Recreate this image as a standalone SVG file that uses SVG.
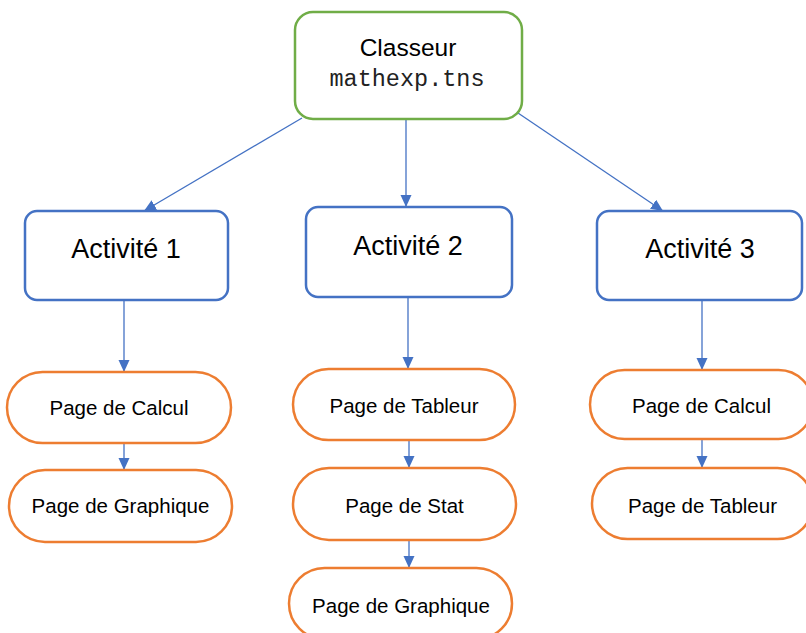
<svg xmlns="http://www.w3.org/2000/svg" width="806" height="633" viewBox="0 0 806 633">
<style>
  .root{fill:#fff;stroke:#70AD47;stroke-width:2.5}
  .act{fill:#fff;stroke:#4472C4;stroke-width:2.5}
  .page{fill:#fff;stroke:#ED7D31;stroke-width:2.5}
  .t{font-family:"Liberation Sans",Arial,sans-serif;fill:#000;text-anchor:middle}
  .ta{font-size:27px}
  .tp{font-size:20.5px}
  .mono{font-family:"Liberation Mono","Courier New",monospace;font-size:23.5px;fill:#222;text-anchor:middle}
  .c{stroke:#4472C4;stroke-width:1.3;fill:none;marker-end:url(#ah)}
</style>
<defs>
  <marker id="ah" markerUnits="userSpaceOnUse" markerWidth="13" markerHeight="12" refX="12" refY="5.5" orient="auto">
    <path d="M0,0 L12,5.5 L0,11 z" fill="#4472C4"/>
  </marker>
</defs>
<rect width="806" height="633" fill="#fff"/>
<g id="connectors">
  <line class="c" x1="302" y1="118" x2="144" y2="211"/>
  <line class="c" x1="406" y1="119" x2="406" y2="207"/>
  <line class="c" x1="518" y1="113" x2="663" y2="211"/>
  <line class="c" x1="124" y1="300" x2="124" y2="372"/>
  <line class="c" x1="124" y1="443" x2="124" y2="470"/>
  <line class="c" x1="408" y1="297" x2="408" y2="369"/>
  <line class="c" x1="409" y1="440" x2="409" y2="468"/>
  <line class="c" x1="409" y1="540" x2="409" y2="568"/>
  <line class="c" x1="702" y1="300" x2="702" y2="370"/>
  <line class="c" x1="702" y1="439" x2="702" y2="468"/>
</g>
<g id="classeur">
  <rect class="root" x="295" y="12" width="227" height="107" rx="18"/>
  <text class="t" x="408" y="56" font-size="24.5">Classeur</text>
  <text class="mono" x="407" y="86">mathexp.tns</text>
</g>
<g id="activite1">
  <rect class="act" x="25" y="211" width="203" height="89" rx="12"/>
  <text class="t ta" x="126" y="258">Activité 1</text>
</g>
<g id="activite2">
  <rect class="act" x="306" y="207" width="206" height="90" rx="12"/>
  <text class="t ta" x="408" y="255">Activité 2</text>
</g>
<g id="activite3">
  <rect class="act" x="597" y="211" width="205" height="89" rx="12"/>
  <text class="t ta" x="700" y="258">Activité 3</text>
</g>
<g id="a1-calcul">
  <rect class="page" x="7" y="372" width="224" height="71" rx="35.5"/>
  <text class="t tp" x="119" y="415">Page de Calcul</text>
</g>
<g id="a1-graphique">
  <rect class="page" x="9" y="470" width="223" height="72" rx="36"/>
  <text class="t tp" x="120.5" y="513">Page de Graphique</text>
</g>
<g id="a2-tableur">
  <rect class="page" x="293" y="369" width="222" height="71" rx="35.5"/>
  <text class="t tp" x="404" y="413">Page de Tableur</text>
</g>
<g id="a2-stat">
  <rect class="page" x="293" y="468" width="223" height="72" rx="36"/>
  <text class="t tp" x="404.5" y="513">Page de Stat</text>
</g>
<g id="a2-graphique">
  <rect class="page" x="289" y="568" width="223" height="71" rx="35.5"/>
  <text class="t tp" x="401" y="613">Page de Graphique</text>
</g>
<g id="a3-calcul">
  <rect class="page" x="590" y="370" width="223" height="69" rx="34.5"/>
  <text class="t tp" x="701.5" y="413">Page de Calcul</text>
</g>
<g id="a3-tableur">
  <rect class="page" x="592" y="468" width="221" height="71" rx="35.5"/>
  <text class="t tp" x="702.5" y="513">Page de Tableur</text>
</g>
</svg>
